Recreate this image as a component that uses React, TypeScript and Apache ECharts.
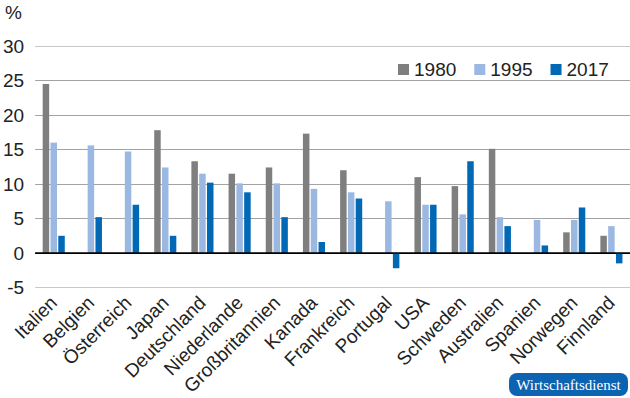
import React, { useEffect, useRef } from "react";
import * as echarts from "echarts";

const categories = [
  "Italien", "Belgien", "Österreich", "Japan", "Deutschland", "Niederlande",
  "Großbritannien", "Kanada", "Frankreich", "Portugal", "USA", "Schweden",
  "Australien", "Spanien", "Norwegen", "Finnland",
];
const values1980 = [24.5, null, null, 17.8, 13.3, 11.5, 12.4, 17.3, 12.0, null, 11.0, 9.7, 15.1, null, 3.0, 2.5];
const values1995 = [16.0, 15.6, 14.7, 12.4, 11.5, 10.1, 10.1, 9.3, 8.8, 7.5, 7.0, 5.6, 5.2, 4.8, 4.8, 3.9];
const values2017 = [2.5, 5.2, 7.0, 2.5, 10.2, 8.8, 5.2, 1.6, 7.9, -2.2, 7.0, 13.3, 3.9, 1.1, 6.6, -1.5];
const seriesNames = ["1980", "1995", "2017"];
const yTicks = { min: -5, max: 30, interval: 5 };

const COLORS = ["#7f7f7f", "#9bb8e2", "#0068b5"];
const FONT = "Liberation Sans, Arial, sans-serif";

export default function App() {
  const ref = useRef<HTMLDivElement>(null);
  useEffect(() => {
    document.body.style.margin = "0";
    const chart = echarts.init(ref.current!, null, { renderer: "svg" });
    const data = [values1980, values1995, values2017];
    chart.setOption({
      animation: false,
      textStyle: { fontFamily: FONT },
      grid: { left: 32, right: 0, top: 46, bottom: 109, containLabel: false },
      legend: {
        data: seriesNames,
        left: 398,
        top: 60,
        padding: 0,
        itemWidth: 11,
        itemHeight: 11,
        itemGap: 18,
        icon: "rect",
        textStyle: { fontSize: 19, color: "#222", fontFamily: FONT },
      },
      xAxis: {
        type: "category",
        data: categories,
        axisLine: { show: false, onZero: false },
        axisTick: { show: false },
        axisLabel: {
          rotate: 45,
          interval: 0,
          fontSize: 19,
          color: "#222",
          margin: 12,
          fontFamily: FONT,
        },
      },
      yAxis: {
        type: "value",
        min: yTicks.min,
        max: yTicks.max,
        interval: yTicks.interval,
        axisLine: { show: false },
        axisTick: { show: false },
        axisLabel: { fontSize: 19, color: "#222", margin: 11, fontFamily: FONT },
        splitLine: {
          lineStyle: {
            color: ["#c8c8c8", "#000000", "#a3a3a3", "#a3a3a3", "#a3a3a3", "#a3a3a3", "#a3a3a3", "#c8c8c8"],
            width: 1,
          },
        },
      },
      graphic: [
        {
          type: "text",
          left: 5,
          top: 3,
          style: { text: "%", fontSize: 19, fill: "#222", fontFamily: FONT },
        },
        {
          type: "rect",
          shape: { x: 509, y: 373, width: 119, height: 23, r: 8 },
          style: { fill: "#0b63b1" },
        },
        {
          type: "text",
          x: 568.5,
          y: 385,
          style: {
            text: "Wirtschaftsdienst",
            fontSize: 15,
            fill: "#ffffff",
            fontFamily: "Liberation Serif, Times New Roman, serif",
            align: "center",
            verticalAlign: "middle",
          },
        },
      ],
      series: seriesNames.map((name, i) => ({
        name,
        type: "bar",
        data: data[i],
        barWidth: 6.5,
        barGap: "20%",
        itemStyle: { color: COLORS[i] },
        markLine:
          i === 0
            ? {
                silent: true,
                symbol: "none",
                label: { show: false },
                lineStyle: { color: "#000", width: 1.5, type: "solid" },
                data: [{ yAxis: 0 }],
              }
            : undefined,
      })),
    });
    return () => chart.dispose();
  }, []);
  return <div ref={ref} style={{ width: 630, height: 398 }} />;
}
